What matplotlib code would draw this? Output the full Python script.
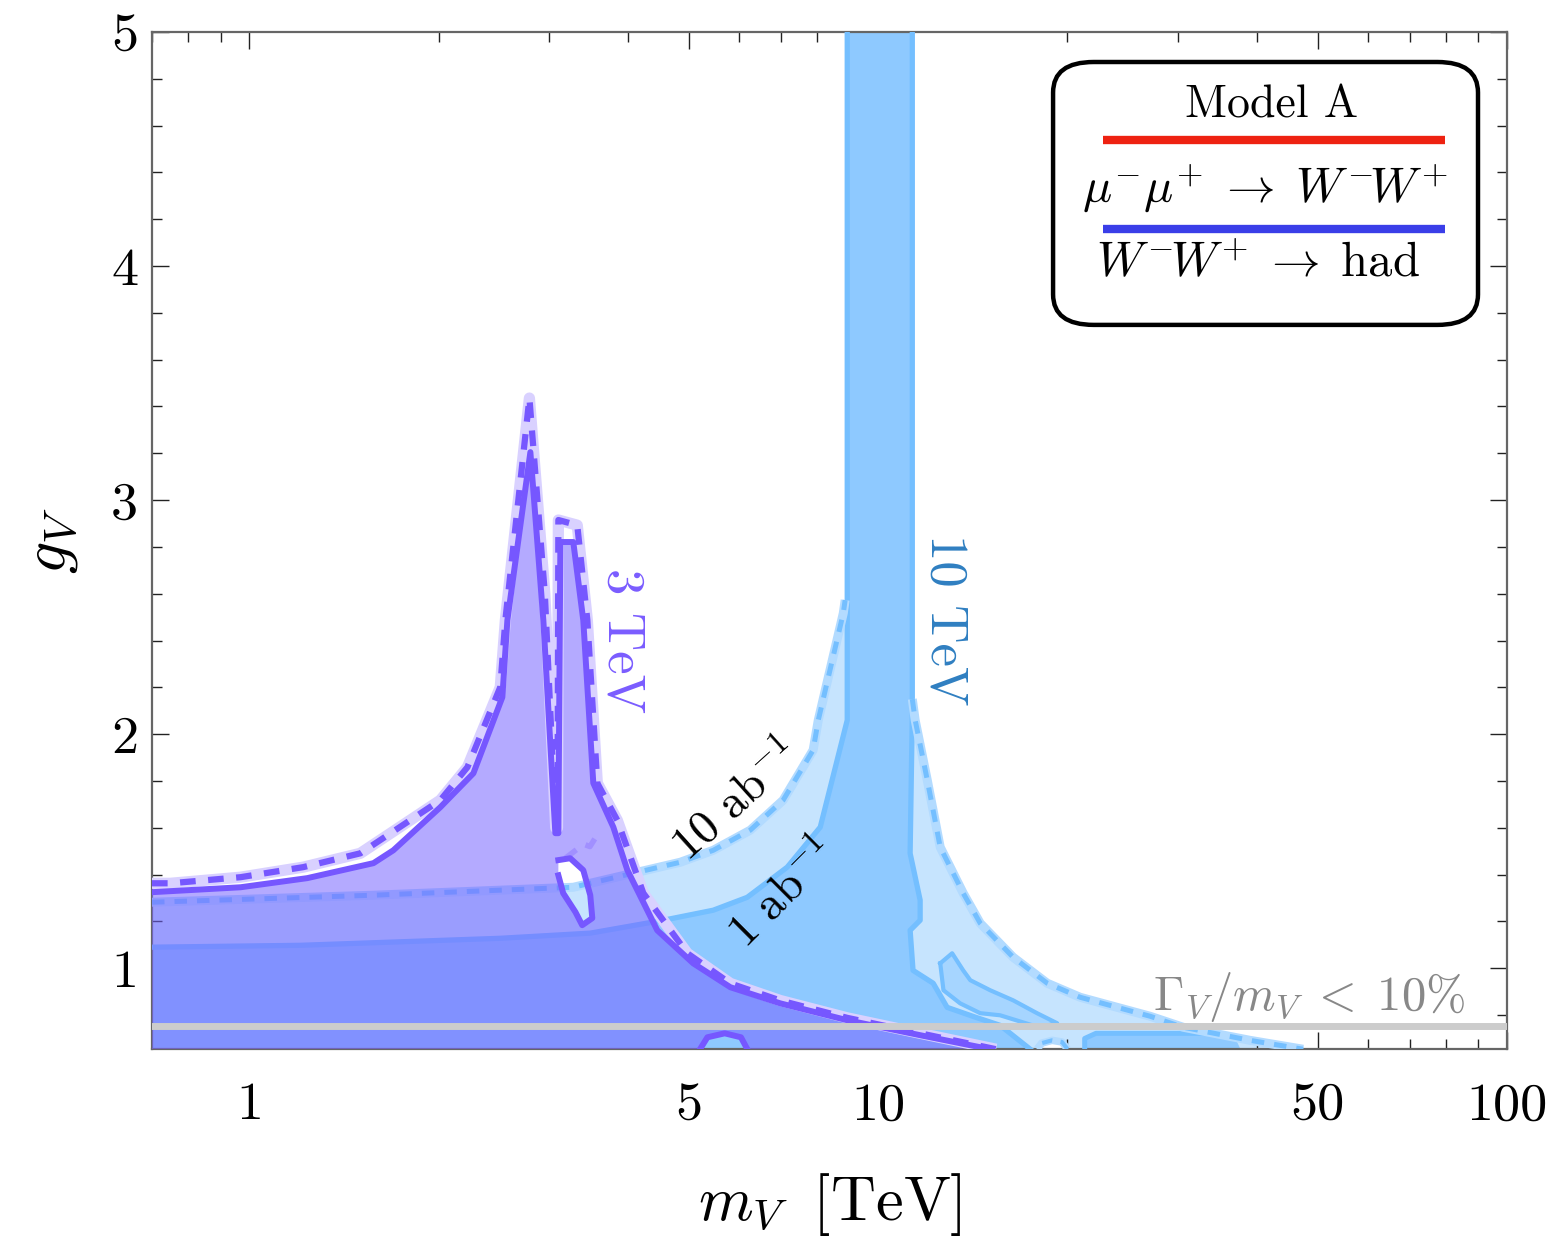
import numpy as np
import matplotlib.pyplot as plt
from matplotlib.patches import PathPatch, FancyBboxPatch
from matplotlib.path import Path

plt.rcParams['mathtext.fontset'] = 'cm'
plt.rcParams['font.family'] = 'serif'
plt.rcParams['font.serif'] = ['cmr10', 'DejaVu Serif']
plt.rcParams['axes.formatter.use_mathtext'] = True

# ---------------- Contours (m_V in TeV, g_V) ----------------
# 3 TeV collider, 1 ab^-1 (solid)
p3_solid_m = [0.70, 0.968, 1.236, 1.575, 1.694, 2.012, 2.271, 2.525, 2.572, 2.798,
              2.934, 3.066, 3.100, 3.123, 3.274, 3.396, 3.523, 3.791, 3.99, 4.453,
              5.08, 5.818, 6.986, 8.928, 11.66, 15.07]
p3_solid_g = [1.325, 1.346, 1.385, 1.449, 1.504, 1.688, 1.833, 2.158, 2.487, 3.205,
              2.487, 1.577, 1.577, 2.821, 2.821, 2.487, 1.791, 1.603, 1.42, 1.162,
              1.021, 0.919, 0.850, 0.778, 0.714, 0.654]
# hole inside the 3 TeV region
p3_hole_m = [3.100, 3.237, 3.396, 3.484, 3.51, 3.383, 3.30, 3.155, 3.100]
p3_hole_g = [1.462, 1.470, 1.419, 1.312, 1.214, 1.184, 1.24, 1.321, 1.397]
# small notch at the bottom edge
p3_notch_m = [6.19, 6.19, 6.05, 5.70, 5.35, 5.21, 5.21]
p3_notch_g = [0.60, 0.655, 0.705, 0.722, 0.705, 0.655, 0.60]
# 3 TeV collider, 10 ab^-1 (dashed)
p3_dash_m = [0.70, 0.749, 0.968, 1.218, 1.501, 2.012, 2.222, 2.506, 2.553, 2.788,
             2.95, 3.07, 3.09, 3.10, 3.322, 3.447, 3.575, 3.847, 4.231, 4.97,
             5.82, 6.99, 8.93, 11.66, 15.4]
p3_dash_g = [1.363, 1.363, 1.389, 1.432, 1.491, 1.718, 1.859, 2.201, 2.487, 3.436,
             2.6, 1.60, 1.60, 2.915, 2.893, 2.487, 1.791, 1.632, 1.321, 1.064,
             0.935, 0.862, 0.788, 0.722, 0.654]
p3_faint_m = [3.18, 3.40, 3.48, 3.575]
p3_faint_g = [1.47, 1.53, 1.52, 1.57]

# 10 TeV collider, 1 ab^-1 (solid)
b10_solid_left_m = [0.70, 1.205, 2.506, 3.484, 4.551, 5.466, 6.19, 7.167, 8.088, 8.928, 8.928]
b10_solid_left_g = [1.090, 1.098, 1.128, 1.150, 1.205, 1.248, 1.303, 1.432, 1.603, 2.060, 5.2]
b10_solid_right_m = [11.33, 11.33, 11.24, 11.66, 11.66, 11.24, 11.36, 12.23, 12.87, 14.27,
                     15.63, 17.45]
b10_solid_right_g = [5.2, 2.090, 1.491, 1.291, 1.205, 1.162, 0.991, 0.936, 0.833, 0.791,
                     0.756, 0.654]
# islands of the 1 ab^-1 region
b10_tongue_m = [12.55, 13.11, 13.65, 14.01, 15.07, 16.39, 17.89, 19.26, 18.0, 15.63, 14.53, 13.5, 12.7]
b10_tongue_g = [1.021, 1.064, 0.991, 0.949, 0.906, 0.863, 0.808, 0.765, 0.748, 0.799, 0.808, 0.850, 0.906]
b10_island_m = [21.3, 21.3, 22.2, 34.0, 37.0, 38.5]
b10_island_g = [0.60, 0.70, 0.722, 0.722, 0.70, 0.60]
# 10 TeV collider, 10 ab^-1 (dashed)
b10_dash_left_m = [0.70, 1.575, 3.274, 4.078, 4.846, 5.466, 6.26, 7.06, 7.88, 8.03, 8.80, 8.86]
b10_dash_left_g = [1.282, 1.312, 1.346, 1.406, 1.453, 1.504, 1.590, 1.718, 1.932, 2.060, 2.517, 2.573]
b10_dash_right_m = [11.33, 11.45, 11.97, 12.55, 13.65, 14.53, 16.39, 18.57, 20.95, 23.99,
                    27.06, 30.54, 39.03, 47.4]
b10_dash_right_g = [2.15, 2.060, 1.803, 1.517, 1.321, 1.192, 1.047, 0.936, 0.876, 0.833,
                    0.795, 0.748, 0.692, 0.654]
b10_gap_m = [20.0, 20.0, 19.6, 18.9, 18.2, 17.9, 17.9]
b10_gap_g = [0.60, 0.655, 0.685, 0.692, 0.680, 0.655, 0.60]

width_cut = 0.753  # Gamma_V / m_V = 10%

# ---------------- Styles ----------------
PURPLE = '#7657ff'
PURPLE_FILL = '#7764ff'
PURPLE_HALO = '#d9d1ff'
BLUE_LINE = '#74bfff'
BLUE_MID = '#8ec9ff'
BLUE_TONGUE = '#a6d5ff'
BLUE_LIGHT = '#c6e4fe'
BLUE_HALO = '#b3dbff'


def area(m, g):
    x = np.log10(m)
    y = np.asarray(g)
    return 0.5 * np.sum(x * np.roll(y, -1) - np.roll(x, -1) * y)


def region(ax, m, g, holes=(), **kw):
    verts = list(zip(m, g)) + [(m[0], g[0])]
    codes = [Path.MOVETO] + [Path.LINETO] * (len(m) - 1) + [Path.CLOSEPOLY]
    sign = np.sign(area(m, g))
    for hm, hg in holes:
        if np.sign(area(hm, hg)) == sign:
            hm, hg = hm[::-1], hg[::-1]
        verts += list(zip(hm, hg)) + [(hm[0], hg[0])]
        codes += [Path.MOVETO] + [Path.LINETO] * (len(hm) - 1) + [Path.CLOSEPOLY]
    ax.add_patch(PathPatch(Path(verts, codes), lw=0, **kw))


def dashed(ax, m, g, color, halo, lw, z):
    ax.plot(m, g, color=halo, lw=lw * 1.8, solid_capstyle='butt', zorder=z)
    ax.plot(m, g, color=color, lw=lw, dashes=(2.5, 2.0), zorder=z + 0.1)


fig = plt.figure(figsize=(15.62, 12.54), dpi=100)
ax = fig.add_axes([152 / 1562, 1 - 1049 / 1254, 1355 / 1562, 1017 / 1254])
ax.set_xscale('log')

# 10 TeV, 10 ab^-1 region
lm = b10_dash_left_m + [8.86, 11.33] + b10_dash_right_m + [48.5] + b10_gap_m + [0.70]
lg = b10_dash_left_g + [5.2, 5.2] + b10_dash_right_g + [0.60] + b10_gap_g + [0.60]
region(ax, lm, lg, facecolor=BLUE_LIGHT, zorder=1)

# 10 TeV, 1 ab^-1 region
sm = b10_solid_left_m + b10_solid_right_m + [17.6, 0.70]
sg = b10_solid_left_g + b10_solid_right_g + [0.60, 0.60]
region(ax, sm, sg, facecolor=BLUE_MID, zorder=2)
region(ax, b10_tongue_m, b10_tongue_g, facecolor=BLUE_TONGUE, zorder=2)
region(ax, b10_island_m, b10_island_g, facecolor=BLUE_MID, zorder=2)

# 10 TeV contour lines
ax.plot(b10_solid_left_m, b10_solid_left_g, color=BLUE_LINE, lw=3.8, zorder=3)
ax.plot(b10_solid_right_m, b10_solid_right_g, color=BLUE_LINE, lw=3.8, zorder=3)
ax.plot(b10_tongue_m + b10_tongue_m[:1], b10_tongue_g + b10_tongue_g[:1],
        color=BLUE_LINE, lw=3.0, zorder=3)
ax.plot(b10_island_m[:-1], b10_island_g[:-1], color=BLUE_LINE, lw=3.6, zorder=3)
dashed(ax, b10_dash_left_m, b10_dash_left_g, BLUE_LINE, BLUE_HALO, 3.6, 3)
dashed(ax, b10_dash_right_m, b10_dash_right_g, BLUE_LINE, BLUE_HALO, 3.6, 3)
dashed(ax, b10_gap_m[1:-1], b10_gap_g[1:-1], BLUE_LINE, BLUE_HALO, 3.0, 3)

# 3 TeV region (semi-transparent on top of the 10 TeV bands)
pm = p3_solid_m + [15.5] + p3_notch_m + [0.70]
pg = p3_solid_g + [0.60] + p3_notch_g + [0.60]
region(ax, pm, pg, holes=[(p3_hole_m, p3_hole_g)], facecolor=PURPLE_FILL, alpha=0.55, zorder=4)

dashed(ax, p3_dash_m, p3_dash_g, PURPLE, PURPLE_HALO, 4.5, 5)
ax.plot(p3_faint_m, p3_faint_g, color='#9a86ff', lw=4, dashes=(2.5, 2.0), alpha=0.7, zorder=5)
ax.plot(p3_solid_m, p3_solid_g, color=PURPLE, lw=4.3, zorder=5.5)
ax.plot(p3_hole_m, p3_hole_g, color=PURPLE, lw=4.3, zorder=5.5)
ax.plot(p3_notch_m[1:-1], p3_notch_g[1:-1], color=PURPLE, lw=4.3, zorder=5.5)

# width cut
ax.axhline(width_cut, color='#cccccc', lw=5, zorder=6)

# ---------------- Labels on the plot ----------------
ax.text(3.92, 2.40, '3 TeV', color='#7a5cff', fontsize=38, rotation=-90,
        ha='center', va='center', zorder=7)
ax.text(12.78, 2.49, '10 TeV', color='#2f7fc1', fontsize=38, rotation=-90,
        ha='center', va='center', zorder=7)
ax.text(5.93, 1.72, r'$10\ \mathrm{ab}^{-1}$', fontsize=34, rotation=42,
        ha='center', va='center', zorder=7)
ax.text(7.05, 1.32, r'$1\ \mathrm{ab}^{-1}$', fontsize=34, rotation=45,
        ha='center', va='center', zorder=7)
ax.text(86, 0.82, r'$\Gamma_V/m_V\;<\;10\%$', color='#888888', fontsize=35,
        ha='right', va='baseline', zorder=7)

# ---------------- Legend box ----------------
ax.add_patch(FancyBboxPatch((0.665, 0.712), 0.3136, 0.2585,
                            boxstyle='round,pad=0,rounding_size=0.03',
                            transform=ax.transAxes, facecolor='white',
                            edgecolor='black', lw=3.2, zorder=8))
ax.text(0.826, 0.928, 'Model A', transform=ax.transAxes, fontsize=33,
        ha='center', va='center', zorder=9)
ax.plot([0.702, 0.954], [0.8938, 0.8938], transform=ax.transAxes,
        color='#ee2211', lw=6, solid_capstyle='butt', zorder=9)
ax.text(0.821, 0.846, r'$\mu^{-}\mu^{+}\;\to\;W^{-}\!W^{+}$', transform=ax.transAxes,
        fontsize=35, ha='center', va='center', zorder=9)
ax.plot([0.702, 0.954], [0.8063, 0.8063], transform=ax.transAxes,
        color='#3a3ee8', lw=6, solid_capstyle='butt', zorder=9)
ax.text(0.816, 0.771, r'$W^{-}\!W^{+}\;\to\;\mathrm{had}$', transform=ax.transAxes,
        fontsize=35, ha='center', va='center', zorder=9)

# ---------------- Axes ----------------
ax.set_xlim(0.7, 100)
ax.set_ylim(0.655, 5.0)
ax.set_xticks([1, 5, 10, 50, 100])
ax.set_xticklabels(['1', '5', '10', '50', '100'])
ax.set_xticks([0.7, 0.8, 0.9, 2, 3, 4, 6, 7, 8, 9, 20, 30, 40, 60, 70, 80, 90], minor=True)
ax.set_yticks([1, 2, 3, 4, 5])
ax.set_yticklabels(['1', '2', '3', '4', '5'])
ax.set_yticks(np.arange(0.8, 5.0, 0.2), minor=True)
ax.tick_params(which='both', direction='in', top=True, right=True,
               width=1.0, color='#222222', labelsize=39)
ax.tick_params(which='major', length=12)
ax.tick_params(which='minor', length=7)
ax.tick_params(axis='x', which='major', pad=24)
ax.tick_params(axis='y', which='major', pad=10)
for s in ax.spines.values():
    s.set_color('#666666')
    s.set_linewidth(1.6)

ax.set_xlabel(r'$m_V\;\;[\mathrm{TeV}]$', fontsize=45, labelpad=30)
ax.set_ylabel(r'$g_V$', fontsize=46, labelpad=22)

fig.savefig('out.png', dpi=100)
